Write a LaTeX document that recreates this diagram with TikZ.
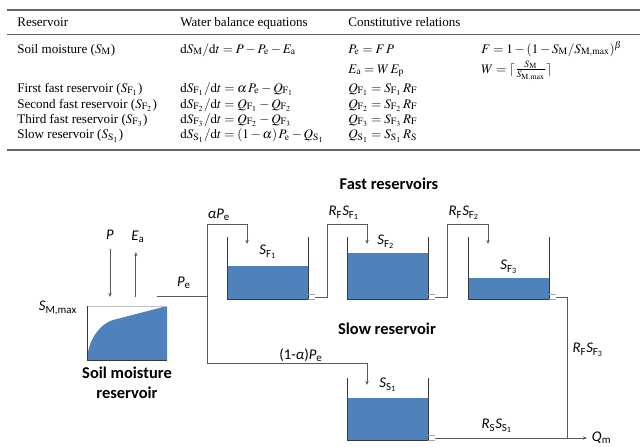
\documentclass[tikz,border=0pt]{standalone}
\usepackage{mathptmx}
\usepackage{fontspec}
\setmainfont{Liberation Serif}
\newfontfamily\calibri{Carlito}
\usetikzlibrary{arrows.meta}
\definecolor{water}{rgb}{0.31, 0.506, 0.741}
\definecolor{pipec}{rgb}{0.35, 0.35, 0.35}
\definecolor{wallc}{rgb}{0.22, 0.22, 0.22}
\newcommand{\vsub}[2]{\textit{#1}\textsubscript{#2}}
\tikzset{
    tab/.style={anchor=base west, inner sep=0pt, font=\fontsize{9.3}{11}\selectfont},
    lab/.style={font=\calibri\fontsize{10.5}{12}\selectfont},
    head/.style={font=\calibri\bfseries\fontsize{11.7}{14}\selectfont, align=center},
    link/.style={draw=pipec, line width=0.6pt},
    flow/.style={link, -{Stealth[length=3pt,width=2.4pt]}},
    tankwall/.style={draw=wallc, line width=0.6pt},
    tabrule/.style={draw=black!60, line width=1pt}
}

\begin{document}
\begin{tikzpicture}[x=0.025cm, y=-0.025cm]
        \useasboundingbox (0,0) rectangle (640,447);

        % table
        \draw[tabrule] (7,10) -- (640,10);
        \draw[tabrule, line width=0.6pt] (7,34) -- (640,34);
        \draw[tabrule] (7,150) -- (640,150);
        \node[tab] (hres) at (17,26.5) {Reservoir};
        \node[tab] (hbal) at (180,26.5) {Water balance equations};
        \node[tab] (hrel) at (348,26.5) {Constitutive relations};
        \node[tab] (res0) at (17,53) {Soil moisture ($S_\mathrm{M}$)};
        \node[tab] (bal0) at (180,53) {$\mathrm{d}S_\mathrm{M}/\mathrm{d}t = P - P_\mathrm{e} - E_\mathrm{a}$};
        \node[tab] (rel0) at (348,53) {$P_\mathrm{e} = F\,P$};
        \node[tab] (frel) at (481,53) {$F = 1-(1-S_\mathrm{M}/S_{\mathrm{M,max}})^\beta$};
        \node[tab] (erel) at (348,73) {$E_\mathrm{a} = W\,E_\mathrm{p}$};
        \node[tab] (wrel) at (481,73) {$W = \lceil \frac{S_\mathrm{M}}{S_{\mathrm{M,max}}} \rceil$};
        \foreach \y/\res/\balance/\relation [count=\i] in {
            92/{First fast reservoir ($S_{\mathrm{F}_1}$)}/{$\mathrm{d}S_{\mathrm{F}_1}/\mathrm{d}t = \alpha\,P_\mathrm{e} - Q_{\mathrm{F}_1}$}/{$Q_{\mathrm{F}_1} = S_{\mathrm{F}_1}\,R_\mathrm{F}$},
            108/{Second fast reservoir ($S_{\mathrm{F}_2}$)}/{$\mathrm{d}S_{\mathrm{F}_2}/\mathrm{d}t = Q_{\mathrm{F}_1} - Q_{\mathrm{F}_2}$}/{$Q_{\mathrm{F}_2} = S_{\mathrm{F}_2}\,R_\mathrm{F}$},
            123/{Third fast reservoir ($S_{\mathrm{F}_3}$)}/{$\mathrm{d}S_{\mathrm{F}_3}/\mathrm{d}t = Q_{\mathrm{F}_2} - Q_{\mathrm{F}_3}$}/{$Q_{\mathrm{F}_3} = S_{\mathrm{F}_3}\,R_\mathrm{F}$},
            138.5/{Slow reservoir ($S_{\mathrm{S}_1}$)}/{$\mathrm{d}S_{\mathrm{S}_1}/\mathrm{d}t = (1-\alpha)\,P_\mathrm{e} - Q_{\mathrm{S}_1}$}/{$Q_{\mathrm{S}_1} = S_{\mathrm{S}_1}\,R_\mathrm{S}$}}{
            \node[tab] (res\i) at (17,\y) {\res};
            \node[tab] (bal\i) at (180,\y) {\balance};
            \node[tab] (rel\i) at (348,\y) {\relation};
        }

        % soil moisture reservoir
        \fill[water] (87,360) .. controls (88,338) and (102,323) .. (113,320) -- (167,306) -- (167,360) -- cycle;
        \draw[draw=black!25, line width=0.5pt] (87,306) -- (167,306);
        \draw[tankwall] (87,306) -- (87,360) -- (167,360);
        \coordinate (soil-top) at (127,297);
        \coordinate (soil-out) at (157,296);
        \coordinate (split) at (207,296);
        \node[lab] (Smax) at (58,308) {\vsub{S}{M,max}};
        \node[head] (soil) at (127,383) {Soil moisture\\reservoir};
        \node[lab] (P) at (110,235) {\textit{P}};
        \node[lab] (Ea) at (138,237) {\vsub{E}{a}};
        \draw[flow, shorten <=3pt] (P) -- (P |- soil-top);
        \draw[flow, shorten >=3pt] ([xshift=-1.5pt]Ea.south |- soil-top) -- ([xshift=-1.5pt]Ea.south);

        % tanks
        \foreach \name/\xl/\yb/\level in {f1/227/299/33,f2/347/299/46,f3/468/299/21,s1/347/440/42}{
            \pgfmathsetmacro{\xr}{\xl+81}
            \pgfmathsetmacro{\yt}{\yb-62}
            \fill[water] (\xl,\yb) rectangle (\xr,\yb-\level);
            \draw[tankwall] (\xl,\yt) -- (\xl,\yb) -- (\xr,\yb) -- (\xr,\yt);
            \draw[draw=black!35, line width=0.4pt] (\xr,\yb-5) -- ++(7,0) (\xr,\yb) -- ++(7,0);
            \coordinate (\name-in) at (\xl+20,\yt+7);
            \coordinate (\name-out) at (\xr+7,\yb-2);
        }
        \node[head] (fast) at (389,184) {Fast reservoirs};
        \node[head] (slow) at (387,329) {Slow reservoir};
        \node[lab] (SF1) at (268,252) {\vsub{S}{F\textsubscript{1}}};
        \node[lab] (SF2) at (386,242) {\vsub{S}{F\textsubscript{2}}};
        \node[lab] (SF3) at (509,267) {\vsub{S}{F\textsubscript{3}}};
        \node[lab] (SS1) at (388,385) {\vsub{S}{S\textsubscript{1}}};

        % flows
        \draw[link] (soil-out) -- (split);
        \draw[flow] (split) -- ++(0,-72) -| (f1-in);
        \draw[flow] (split) -- ++(0,67) -| (s1-in);
        \draw[flow] (f1-out) -| ++(12,-73) -| (f2-in);
        \draw[flow] (f2-out) -| ++(12,-73) -| (f3-in);
        \coordinate (join) at (567,438);
        \draw[link] (f3-out) -| (join);
        \node[lab, anchor=west] (Qm) at (587,438) {\vsub{Q}{m}};
        \draw[flow] (s1-out) -- (Qm);
        \node[lab] (Pe) at (184,283) {\vsub{P}{e}};
        \node[lab] (aPe) at (219,215) {\textit{αP}\textsubscript{e}};
        \node[lab] (bPe) at (301,355) {(1-\textit{α})\vsub{P}{e}};
        \node[lab] (Q1) at (344,213) {\vsub{R}{F}\vsub{S}{F\textsubscript{1}}};
        \node[lab] (Q2) at (464,213) {\vsub{R}{F}\vsub{S}{F\textsubscript{2}}};
        \node[lab] (Q3) at (588,350) {\vsub{R}{F}\vsub{S}{F\textsubscript{3}}};
        \node[lab] (QS) at (497,426) {\vsub{R}{S}\vsub{S}{S\textsubscript{1}}};
\end{tikzpicture}
\end{document}
